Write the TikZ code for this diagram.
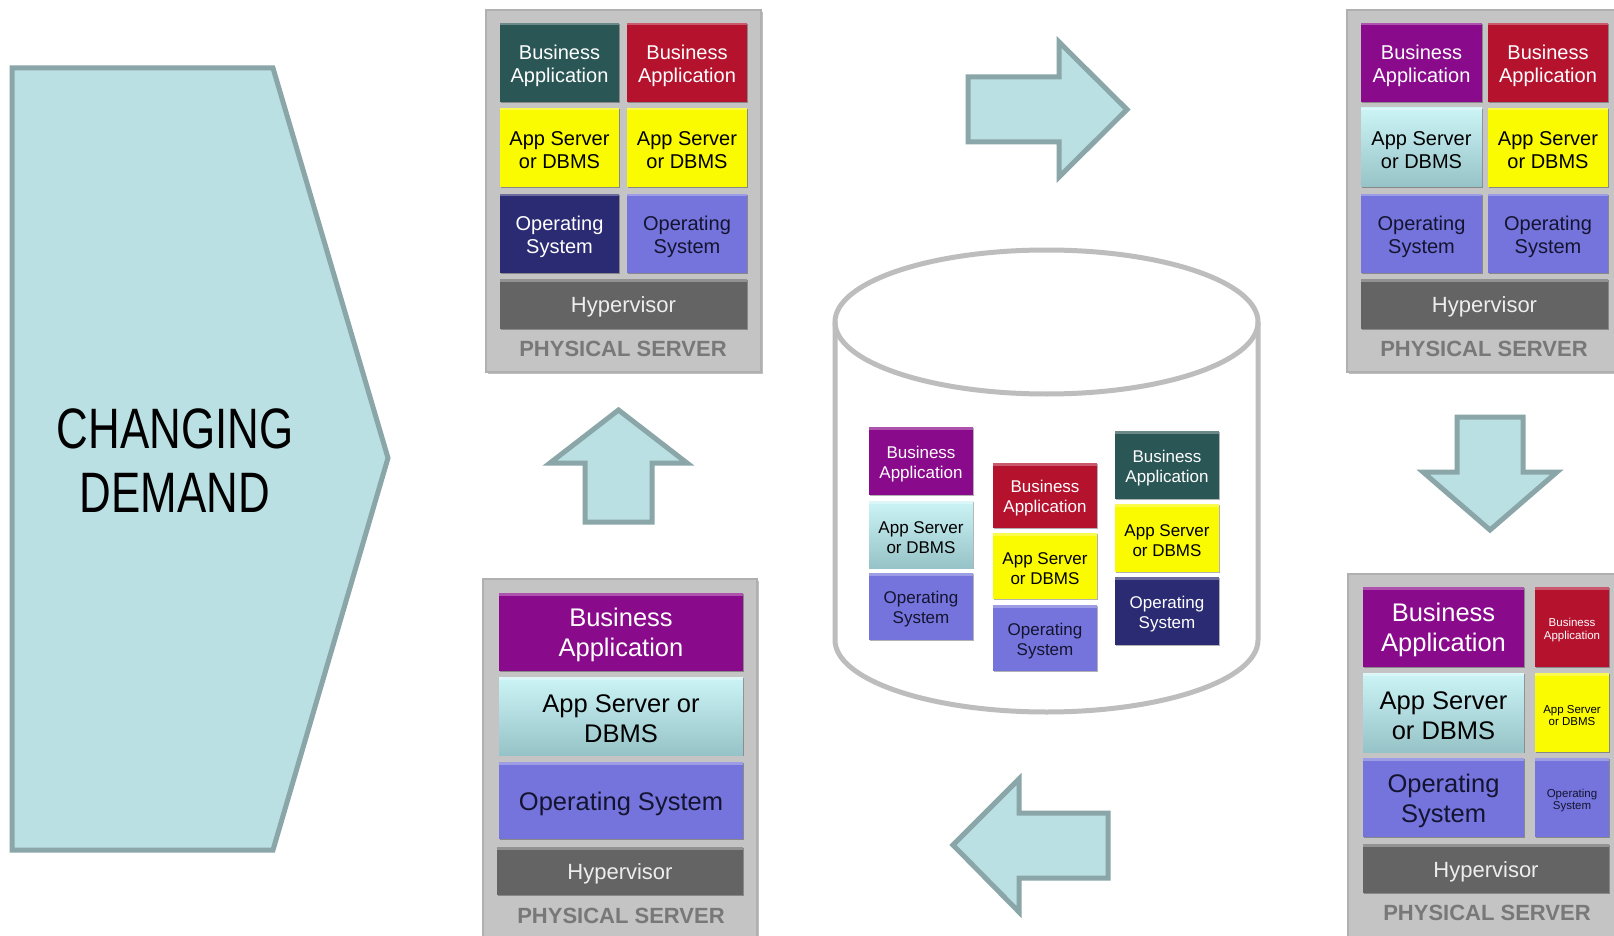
\documentclass[tikz,border=0pt]{standalone}
\usepackage{fontspec}
\setmainfont{Liberation Sans}
\usetikzlibrary{shadows}
\definecolor{chfill}{HTML}{BAE0E3}
\definecolor{chdraw}{HTML}{8AA6A8}
\definecolor{cTeal}{HTML}{2B5656}
\definecolor{cRed}{HTML}{B5122E}
\definecolor{cPurple}{HTML}{8A0A8C}
\definecolor{cYellow}{HTML}{FAFA00}
\definecolor{cNavy}{HTML}{2B2B73}
\definecolor{cLav}{HTML}{7474DC}
\definecolor{cCyanT}{HTML}{CCF4F6}
\definecolor{cCyanB}{HTML}{96C3C7}
\definecolor{cHyp}{HTML}{646464}
\definecolor{cHypTxt}{HTML}{EDEDED}
\definecolor{cSrv}{HTML}{C4C4C4}
\definecolor{cSrvLine}{HTML}{B0B0B0}
\definecolor{cLabel}{HTML}{787878}
\definecolor{cDark}{HTML}{141430}
\definecolor{cCyl}{HTML}{BDBDBD}
% name, x1, y1, x2, y2, tile style, text style, text
\newcommand\tilebox[8]{%
  \node[#6, minimum width={(#4)-(#2)}, minimum height={(#5)-(#3)}] (#1) at ({((#2)+(#4))/2},{((#3)+(#5))/2}) {};
  \node[tiletext, #7, yshift=-3pt] (#1-t) at (#1.center) {#8};}
\tikzset{
  tile/.style={inner sep=0pt,
    drop shadow={shadow xshift=1.2pt, shadow yshift=-1.2pt, opacity=0.3, fill=black},
    path picture={\fill[white,opacity=0.3] (path picture bounding box.north west) rectangle ([yshift=-2.5pt]path picture bounding box.north east);}},
  tiletext/.style={inner sep=0pt, align=center},
  kteal/.style={tile, fill=cTeal},
  kred/.style={tile, fill=cRed},
  kpurple/.style={tile, fill=cPurple},
  kyellow/.style={tile, fill=cYellow},
  knavy/.style={tile, fill=cNavy},
  klav/.style={tile, fill=cLav},
  kcyan/.style={tile, top color=cCyanT, bottom color=cCyanB},
  khyp/.style={tile, fill=cHyp},
  tw/.style={text=white},
  tb/.style={text=black},
  td/.style={text=cDark},
  th/.style={text=cHypTxt, font=\fontsize{22}{26}\selectfont},
  fA/.style={font=\fontsize{20}{23}\selectfont},
  fM/.style={font=\fontsize{17}{20}\selectfont},
  fB/.style={font=\fontsize{25.5}{30}\selectfont},
  fS/.style={font=\fontsize{11.5}{12.5}\selectfont},
  server/.style={fill=cSrv, draw=cSrvLine, line width=1.5pt, inner sep=0pt,
    drop shadow={shadow xshift=2pt, shadow yshift=-2pt, opacity=0.25, fill=black}},
  srvlabel/.style={text=cLabel, font=\fontsize{22}{26}\selectfont\bfseries, inner sep=0pt},
  blockarrow/.style={fill=chfill, draw=chdraw, line width=5pt, line join=miter},
}
\begin{document}
\begin{tikzpicture}[x=1pt,y=-1pt]
\useasboundingbox (0,0) rectangle (1614,936);
\clip (0,0) rectangle (1614,936);
\fill[white] (0,0) rectangle (1614,936);

% changing demand chevron
\draw[blockarrow] (12,68) -- (273,68) -- (388,458) -- (273,850) -- (12,850) -- cycle;
\node[align=center, xscale=0.77, transform shape, font=\fontsize{57}{64}\selectfont, inner sep=0pt] (demand) at (175,461) {CHANGING\\DEMAND};

% block arrows
\draw[blockarrow] (968,77) -- (1059,77) -- (1059,42) -- (1127,109.5) -- (1059,177) -- (1059,142) -- (968,142) -- cycle;
\draw[blockarrow] (585,522) -- (585,463) -- (550,463) -- (618.5,410) -- (687,463) -- (652,463) -- (652,522) -- cycle;
\draw[blockarrow] (1457,417) -- (1523,417) -- (1523,472) -- (1557,472) -- (1490,530) -- (1423,472) -- (1457,472) -- cycle;
\draw[blockarrow] (1108,813) -- (1019,813) -- (1019,779) -- (953,845) -- (1019,912) -- (1019,878) -- (1108,878) -- cycle;

% top-left server
\node[server, minimum width=275, minimum height=362] (tl) at (623.5,191) {};
\tilebox{tlba1}{500}{23}{619}{102}{kteal}{tw,fA}{Business\\Application}
\tilebox{tlba2}{627}{23}{747}{102}{kred}{tw,fA}{Business\\Application}
\tilebox{tlas1}{500}{108}{619}{187}{kyellow}{tb,fA}{App Server\\or DBMS}
\tilebox{tlas2}{627}{108}{747}{187}{kyellow}{tb,fA}{App Server\\or DBMS}
\tilebox{tlos1}{500}{194}{619}{273}{knavy}{tw,fA}{Operating\\System}
\tilebox{tlos2}{627}{194}{747}{273}{klav}{td,fA}{Operating\\System}
\tilebox{tlhv}{500}{279}{747}{329}{khyp}{th}{Hypervisor}
\node[srvlabel] (tllab) at (623,349) {PHYSICAL SERVER};

% top-right server
\node[server, minimum width=275, minimum height=362] (tr) at (1484.5,191) {};
\tilebox{trba1}{1361}{23}{1482}{102}{kpurple}{tw,fA}{Business\\Application}
\tilebox{trba2}{1488}{23}{1608}{102}{kred}{tw,fA}{Business\\Application}
\tilebox{tras1}{1361}{108}{1482}{187}{kcyan}{tb,fA}{App Server\\or DBMS}
\tilebox{tras2}{1488}{108}{1608}{187}{kyellow}{tb,fA}{App Server\\or DBMS}
\tilebox{tros1}{1361}{194}{1482}{273}{klav}{td,fA}{Operating\\System}
\tilebox{tros2}{1488}{194}{1608}{273}{klav}{td,fA}{Operating\\System}
\tilebox{trhv}{1361}{279}{1608}{329}{khyp}{th}{Hypervisor}
\node[srvlabel] (trlab) at (1484,349) {PHYSICAL SERVER};

% bottom-left server
\node[server, minimum width=274, minimum height=371] (bl) at (620,764.5) {};
\tilebox{blba}{499}{593}{743}{671}{kpurple}{tw,fB}{Business\\Application}
\tilebox{blas}{499}{677}{743}{755}{kcyan}{tb,fB}{App Server or\\DBMS}
\tilebox{blos}{499}{762}{743}{839}{klav}{td,fB}{Operating System}
\tilebox{blhv}{497}{847}{743}{895}{khyp}{th}{Hypervisor}
\node[srvlabel] (bllab) at (621,916) {PHYSICAL SERVER};

% bottom-right server
\node[server, minimum width=274, minimum height=376] (br) at (1485,762) {};
\tilebox{brba1}{1363}{587}{1524}{667}{kpurple}{tw,fB}{Business\\Application}
\tilebox{brba2}{1535}{587}{1609}{667}{kred}{tw,fS}{Business\\Application}
\tilebox{bras1}{1363}{673}{1524}{752}{kcyan}{tb,fB}{App Server\\or DBMS}
\tilebox{bras2}{1535}{673}{1609}{752}{kyellow}{tb,fS}{App Server\\or DBMS}
\tilebox{bros1}{1363}{758}{1524}{837}{klav}{td,fB}{Operating\\System}
\tilebox{bros2}{1535}{758}{1609}{837}{klav}{td,fS}{Operating\\System}
\tilebox{brhv}{1363}{844}{1609}{893}{khyp}{th}{Hypervisor}
\node[srvlabel] (brlab) at (1487,913) {PHYSICAL SERVER};

% cylinder
\fill[white] (835,322) -- (835,640) arc[start angle=180, end angle=0, x radius=211.5, y radius=72] -- (1258,322) -- cycle;
\draw[cCyl, line width=5pt] (835,322) -- (835,640) arc[start angle=180, end angle=0, x radius=211.5, y radius=72] -- (1258,322);
\draw[cCyl, line width=5pt] (1046.5,322) ellipse[x radius=211.5, y radius=72];

\tilebox{c1ba}{869}{427}{973}{495}{kpurple}{tw,fM}{Business\\Application}
\tilebox{c1as}{869}{501}{973}{568}{kcyan}{tb,fM}{App Server\\or DBMS}
\tilebox{c1os}{869}{573}{973}{640}{klav}{td,fM}{Operating\\System}
\tilebox{c2ba}{993}{463}{1097}{528}{kred}{tw,fM}{Business\\Application}
\tilebox{c2as}{993}{533}{1097}{599}{kyellow}{tb,fM}{App Server\\or DBMS}
\tilebox{c2os}{993}{605}{1097}{671}{klav}{td,fM}{Operating\\System}
\tilebox{c3ba}{1115}{431}{1219}{499}{kteal}{tw,fM}{Business\\Application}
\tilebox{c3as}{1115}{504}{1219}{572}{kyellow}{tb,fM}{App Server\\or DBMS}
\tilebox{c3os}{1115}{577}{1219}{645}{knavy}{tw,fM}{Operating\\System}
\end{tikzpicture}
\end{document}
